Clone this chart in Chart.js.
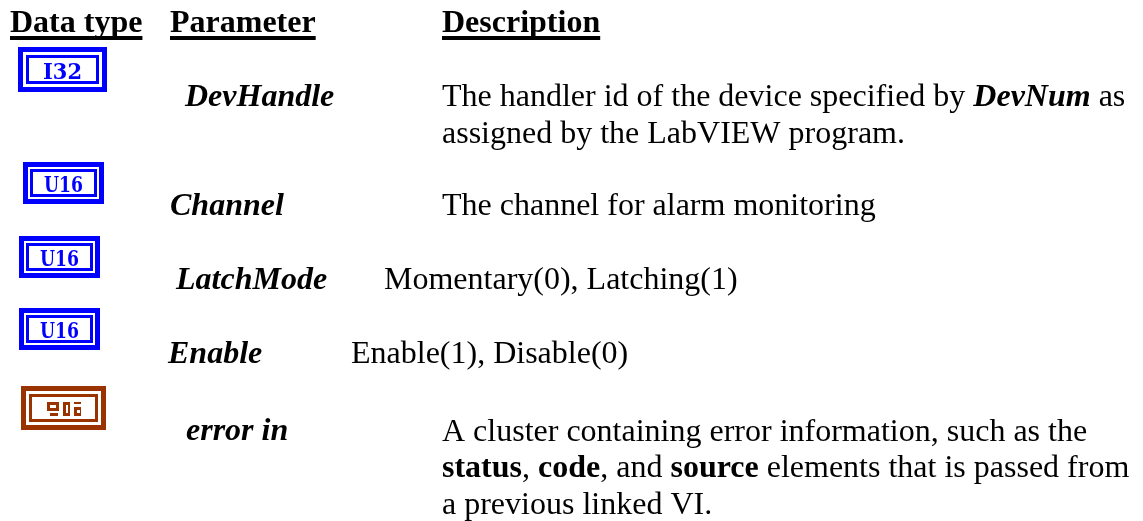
<!DOCTYPE html>
<html lang="en">
<head>
<meta charset="UTF-8">
<title>Parameters</title>
<script src="https://cdn.jsdelivr.net/npm/chart.js"></script>
<style>
  body { margin: 0; background: #fff; }
</style>
</head>
<body>
<canvas id="paramChart" width="1143" height="521"></canvas>
<script>
  // data type icons
  const iconLabels = ['I32', 'U16', 'U16', 'U16', 'cluster'];
  const iconX = [62.5, 63.5, 59.5, 59.5, 63.5];
  const iconY = [69.5, 183, 257, 329, 408];

  // column headers
  const headerLabels = ['Data type', 'Parameter', 'Description'];
  const headerX = [10, 170, 442];
  const headerY = [32, 32, 32];

  // parameter names
  const paramLabels = ['DevHandle', 'Channel', 'LatchMode', 'Enable', 'error in'];
  const paramX = [185, 170, 176, 168, 186];
  const paramY = [106, 215, 289, 363, 440];

  // description lines, *x* = bold italic, _x_ = bold
  const descLines = [
    'The handler id of the device specified by *DevNum* as',
    'assigned by the LabVIEW program.',
    'The channel for alarm monitoring',
    'Momentary(0), Latching(1)',
    'Enable(1), Disable(0)',
    'A cluster containing error information, such as the',
    '_status_, _code_, and _source_ elements that is passed from',
    'a previous linked VI.'
  ];
  const descX = [442, 442, 442, 384, 351, 442, 442, 442];
  const descY = [106, 143, 215, 289, 363, 441, 477, 514];

  const FONT = '"Liberation Serif"';
  const BLUE = '#0000ff';
  const BROWN = '#993300';

  function frame(g, w, h, inset) {
    g.lineWidth = 5;
    g.strokeRect(2.5, 2.5, w - 5, h - 5);
    g.lineWidth = 3;
    g.strokeRect(inset, inset, w - 2 * inset, h - 2 * inset);
  }

  function makeIcon(label) {
    const c = document.createElement('canvas');
    const g = c.getContext('2d');
    if (label === 'cluster') {
      c.width = 85;
      c.height = 44;
      g.strokeStyle = g.fillStyle = BROWN;
      frame(g, 85, 44, 9.5);
      // the little cluster glyph
      g.fillRect(26, 16, 12, 9);
      g.clearRect(29, 19, 6, 3);
      g.fillRect(29, 27, 8, 3);
      g.fillRect(42, 16, 7, 14);
      g.clearRect(44.5, 19, 2, 8);
      g.fillRect(53, 16, 7, 2);
      g.fillRect(53, 21, 7, 9);
      g.clearRect(55.5, 24, 3, 2.5);
      return c;
    }
    const wide = label === 'I32';
    c.width = wide ? 89 : 81;
    c.height = wide ? 45 : 42;
    g.filter = 'blur(0.5px)';
    g.strokeStyle = g.fillStyle = BLUE;
    frame(g, c.width, c.height, wide ? 9.5 : 8.5);
    g.font = 'bold 23px "DejaVu Serif"';
    g.textAlign = 'center';
    g.textBaseline = 'alphabetic';
    g.fillText(label, c.width / 2, c.height / 2 + 9, 39);
    return c;
  }

  function drawRuns(ctx, line, x, y) {
    line.split(/(\*[^*]+\*|_[^_]+_)/).forEach((part) => {
      if (!part) return;
      let style = '';
      let txt = part;
      if (part[0] === '*') { style = 'italic bold '; txt = part.slice(1, -1); }
      if (part[0] === '_') { style = 'bold '; txt = part.slice(1, -1); }
      ctx.font = style + '32px ' + FONT;
      ctx.fillText(txt, x, y);
      x += ctx.measureText(txt).width;
    });
  }

  // writes the text sets at the points the scales gave them
  const textPlugin = {
    id: 'textPlugin',
    afterDatasetsDraw(chart) {
      const ctx = chart.ctx;
      ctx.save();
      ctx.fillStyle = '#000';
      ctx.textBaseline = 'alphabetic';
      chart.getDatasetMeta(1).data.forEach((pt, i) => {
        ctx.font = 'bold 32px ' + FONT;
        ctx.fillText(headerLabels[i], pt.x, pt.y);
        const w = ctx.measureText(headerLabels[i]).width;
        ctx.fillRect(pt.x, pt.y + 4, w, 4);
      });
      chart.getDatasetMeta(2).data.forEach((pt, i) => {
        ctx.font = 'italic bold 32px ' + FONT;
        ctx.fillText(paramLabels[i], pt.x, pt.y);
      });
      chart.getDatasetMeta(3).data.forEach((pt, i) => {
        drawRuns(ctx, descLines[i], pt.x, pt.y);
      });
      ctx.restore();
    }
  };

  function toPoints(xs, ys) {
    return xs.map((x, i) => ({ x: x, y: ys[i] }));
  }

  new Chart(document.getElementById('paramChart'), {
    type: 'scatter',
    data: {
      datasets: [
        { label: 'Data type', data: toPoints(iconX, iconY), pointStyle: iconLabels.map(makeIcon), pointRadius: 1 },
        { label: 'Header', data: toPoints(headerX, headerY), pointRadius: 0 },
        { label: 'Parameter', data: toPoints(paramX, paramY), pointRadius: 0 },
        { label: 'Description', data: toPoints(descX, descY), pointRadius: 0 }
      ]
    },
    options: {
      responsive: false,
      animation: false,
      layout: { padding: 0, autoPadding: false },
      plugins: { legend: { display: false }, tooltip: { enabled: false } },
      scales: {
        x: { type: 'linear', min: 0, max: 1143, display: false },
        y: { type: 'linear', min: 0, max: 521, reverse: true, display: false }
      }
    },
    plugins: [textPlugin]
  });
</script>
</body>
</html>
